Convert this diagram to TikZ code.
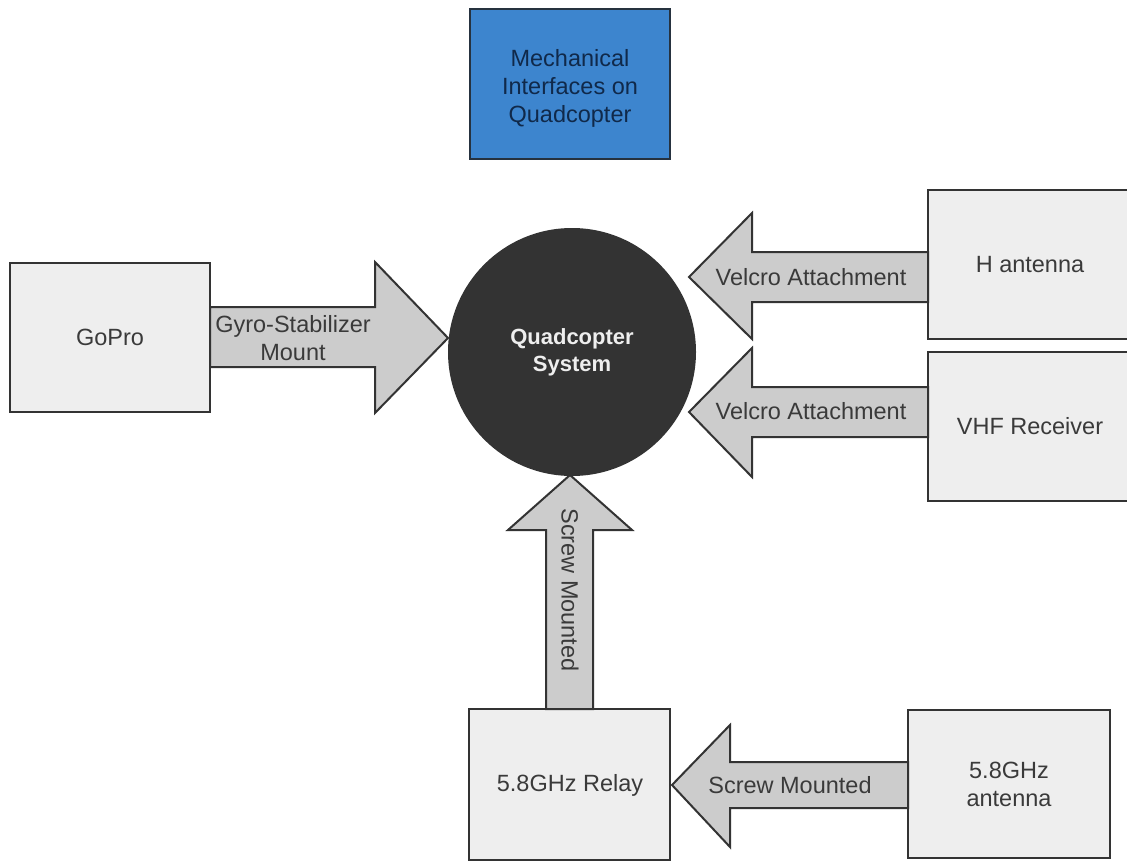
\documentclass[tikz,border=0pt]{standalone}
\usepackage{fontspec}
\setmainfont{Liberation Sans}
\begin{document}
\begin{tikzpicture}[x=1pt,y=-1pt,
  every node/.style={font=\fontsize{23.5}{28}\selectfont, text=txtgray, align=center},
  box/.style={draw=edge, line width=2pt, fill=boxfill},
  blockarrow/.style={draw=edge, line width=2pt, fill=arrfill, line join=miter},
  lbl/.style={inner sep=0pt}
]
\definecolor{edge}{HTML}{333333}
\definecolor{boxfill}{HTML}{EEEEEE}
\definecolor{arrfill}{HTML}{CCCCCC}
\definecolor{txtgray}{HTML}{3A3A3A}
\definecolor{titlefill}{HTML}{3D85CE}
\definecolor{titleedge}{HTML}{26323F}
\definecolor{titletext}{HTML}{10294A}
\definecolor{circfill}{HTML}{333333}
\clip (0,0) rectangle (1127,867);
\fill[white] (0,0) rectangle (1127,867);

% boxes
\draw[draw=titleedge, line width=2pt, fill=titlefill] (470,9) rectangle (670,159);
\node[text=titletext] (title) at (570,88) {Mechanical\\Interfaces on\\Quadcopter};

\draw[box] (10,263) rectangle (210,412);
\node (gopro) at (110,337) {GoPro};

\draw[box] (928,190) rectangle (1140,339);
\node (hant) at (1030,265) {H antenna};

\draw[box] (928,352) rectangle (1140,501);
\node (vhf) at (1030,426) {VHF Receiver};

\draw[box] (469,709) rectangle (670,860);
\node (relay) at (570,785) {5.8GHz Relay};

\draw[box] (908,710) rectangle (1110,858);
\node (ant) at (1009,784) {5.8GHz\\antenna};

% circle
\fill[circfill] (572,352) circle[radius=124];
\node[text=boxfill, font=\fontsize{22}{27}\selectfont\bfseries] (quad) at (572,352) {Quadcopter\\System};

% arrows
\draw[blockarrow] (210,307) -- (375,307) -- (375,262) -- (448,338) -- (375,413) -- (375,367) -- (210,367) -- cycle;
\node[lbl] (l1) at (293,338) {Gyro-Stabilizer\\Mount};

\draw[blockarrow] (928,252) -- (752,252) -- (752,213) -- (689,277) -- (752,339) -- (752,302) -- (928,302) -- cycle;
\node[lbl] (l2) at (811,277) {Velcro Attachment};

\draw[blockarrow] (928,387) -- (752,387) -- (752,348) -- (689,412) -- (752,477) -- (752,437) -- (928,437) -- cycle;
\node[lbl] (l3) at (811,411) {Velcro Attachment};

\draw[blockarrow] (546,709) -- (546,530) -- (508,530) -- (570,475) -- (632,530) -- (593,530) -- (593,709) -- cycle;
\node[lbl, rotate=-90] (l4) at (570,590) {Screw Mounted};

\draw[blockarrow] (908,762) -- (730,762) -- (730,725) -- (672,785) -- (730,847) -- (730,808) -- (908,808) -- cycle;
\node[lbl] (l5) at (790,785) {Screw Mounted};
\end{tikzpicture}
\end{document}
